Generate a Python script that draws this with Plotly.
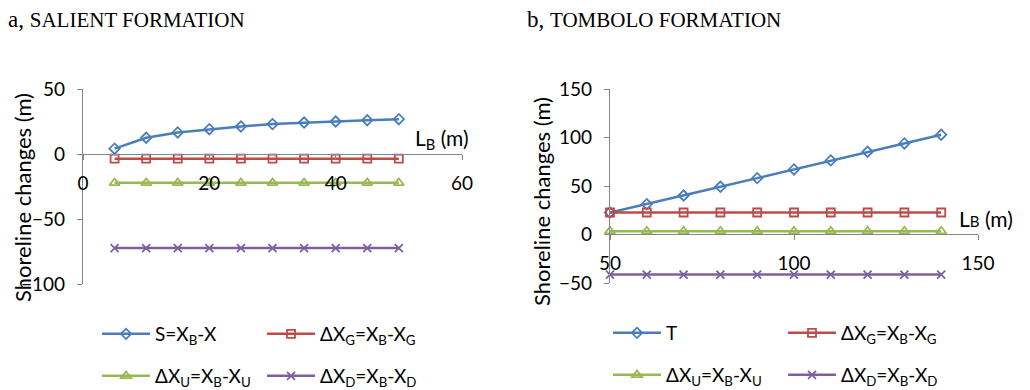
import plotly.graph_objects as go

# ---- data ----
lb_salient = [5, 10, 15, 20, 25, 30, 35, 40, 45, 50]
s_salient = [4.1, 12.5, 16.6, 19.1, 21.2, 23.0, 24.2, 25.0, 26.0, 26.8]
g_salient = [-3.6] * 10
u_salient = [-22.2] * 10
d_salient = [-72.4] * 10

lb_tombolo = [50, 60, 70, 80, 90, 100, 110, 120, 130, 140]
t_tombolo = [22.7, 31.3, 40.2, 49.2, 58.1, 67.1, 76.4, 85.3, 93.9, 102.9]
g_tombolo = [22.7] * 10
u_tombolo = [3.4] * 10
d_tombolo = [-41.3] * 10

W, H = 1030, 390
FONT = "Lato"
AXIS_COLOR = "#868686"

BLUE, RED, GREEN, PURPLE = "#4A7EBB", "#BE4B48", "#98B954", "#7D60A0"


def px_x(p):
    return p / W


def px_y(p):
    return 1 - p / H


fig = go.Figure()

series_a = [
    ("S=X<sub>B</sub>-X", s_salient, BLUE, "diamond-open", 8, "legend"),
    ("ΔX<sub>G</sub>=X<sub>B</sub>-X<sub>G</sub>", g_salient, RED, "square-open", 8, "legend"),
    ("ΔX<sub>U</sub>=X<sub>B</sub>-X<sub>U</sub>", u_salient, GREEN, "triangle-up-open", 9, "legend2"),
    ("ΔX<sub>D</sub>=X<sub>B</sub>-X<sub>D</sub>", d_salient, PURPLE, "x-thin-open", 8, "legend2"),
]
series_b = [
    ("T", t_tombolo, BLUE, "diamond-open", 8, "legend3"),
    ("ΔX<sub>G</sub>=X<sub>B</sub>-X<sub>G</sub>", g_tombolo, RED, "square-open", 8, "legend3"),
    ("ΔX<sub>U</sub>=X<sub>B</sub>-X<sub>U</sub>", u_tombolo, GREEN, "triangle-up-open", 9, "legend4"),
    ("ΔX<sub>D</sub>=X<sub>B</sub>-X<sub>D</sub>", d_tombolo, PURPLE, "x-thin-open", 8, "legend4"),
]

for name, vals, col, sym, size, leg in series_a:
    fig.add_trace(go.Scatter(
        x=lb_salient, y=vals, name=name, mode="lines+markers",
        line=dict(color=col, width=2.5),
        marker=dict(symbol=sym, size=size, color=col, line=dict(color=col, width=1.8)),
        xaxis="x", yaxis="y", legend=leg, cliponaxis=False,
    ))
for name, vals, col, sym, size, leg in series_b:
    fig.add_trace(go.Scatter(
        x=lb_tombolo, y=vals, name=name, mode="lines+markers",
        line=dict(color=col, width=2.5),
        marker=dict(symbol=sym, size=size, color=col, line=dict(color=col, width=1.8)),
        xaxis="x2", yaxis="y2", legend=leg, cliponaxis=False,
    ))

axis_font = dict(family=FONT, size=19, color="#000000")
common_x = dict(showline=True, linecolor=AXIS_COLOR, linewidth=1.3, ticks="outside",
                ticklen=5, tickcolor=AXIS_COLOR, showgrid=False, zeroline=False,
                tickfont=axis_font, ticklabelstandoff=7, anchor="free")
common_y = dict(showline=True, linecolor=AXIS_COLOR, linewidth=1.3, ticks="outside",
                ticklen=5, tickcolor=AXIS_COLOR, showgrid=False, zeroline=False,
                tickfont=axis_font, ticklabelstandoff=8, dtick=50)

legend_common = dict(orientation="h", font=dict(family=FONT, size=19, color="#000"),
                     bgcolor="rgba(0,0,0,0)", xanchor="left", yanchor="middle",
                     itemwidth=48, entrywidthmode="pixels", itemclick=False)

fig.update_layout(
    width=W, height=H, margin=dict(l=0, r=0, t=0, b=0, autoexpand=False),
    paper_bgcolor="white", plot_bgcolor="white",
    xaxis=dict(common_x, domain=[px_x(83), px_x(462)], range=[0, 60], dtick=20,
               position=px_y(154)),
    yaxis=dict(common_y, domain=[px_y(284), px_y(89)], range=[-100, 50], anchor="x"),
    xaxis2=dict(common_x, domain=[px_x(610), px_x(978)], range=[50, 150], dtick=50,
                position=px_y(234)),
    yaxis2=dict(common_y, domain=[px_y(283), px_y(89)], range=[-50, 150], anchor="x2"),
    legend=dict(legend_common, x=px_x(97), y=px_y(334), entrywidth=102),
    legend2=dict(legend_common, x=px_x(97), y=px_y(376), entrywidth=102),
    legend3=dict(legend_common, x=px_x(608), y=px_y(333), entrywidth=112),
    legend4=dict(legend_common, x=px_x(608), y=px_y(375), entrywidth=112),
    showlegend=True,
)

annotations = [
    # panel titles
    dict(text="a, <span style='font-size:21px'>SALIENT FORMATION</span>",
         x=px_x(6), y=px_y(19), xanchor="left", yanchor="middle",
         font=dict(family="Liberation Serif", size=23, color="#000")),
    dict(text="b, <span style='font-size:21px'>TOMBOLO FORMATION</span>",
         x=px_x(525), y=px_y(19), xanchor="left", yanchor="middle",
         font=dict(family="Liberation Serif", size=23, color="#000")),
    # y-axis titles
    dict(text="Shoreline changes (m)", textangle=-90, x=px_x(22), y=px_y(198),
         xanchor="center", yanchor="middle", font=dict(family=FONT, size=22, color="#000")),
    dict(text="Shoreline changes (m)", textangle=-90, x=px_x(541), y=px_y(202),
         xanchor="center", yanchor="middle", font=dict(family=FONT, size=22, color="#000")),
    # x-axis titles
    dict(text="L<sub>B</sub> (m)", x=px_x(442), y=px_y(139),
         xanchor="center", yanchor="middle", font=dict(family=FONT, size=21, color="#000")),
    dict(text="L<span style='font-size:15px'>B</span> (m)", x=px_x(986), y=px_y(218),
         xanchor="center", yanchor="middle", font=dict(family=FONT, size=21, color="#000")),
]
for a in annotations:
    a.update(xref="paper", yref="paper", showarrow=False)
fig.update_layout(annotations=annotations)

fig.write_html("out.html")
